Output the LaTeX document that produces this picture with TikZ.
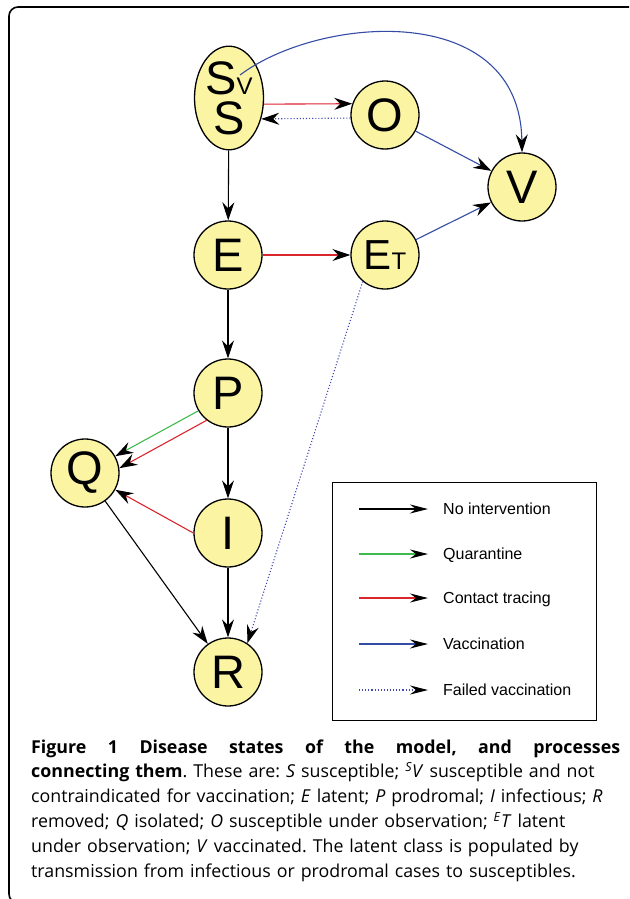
\documentclass[tikz,border=0pt]{standalone}
\usepackage{fontspec}
\setmainfont{Open Sans}
\newfontfamily\diagfont{Liberation Sans}
\usepackage{tikz}
\usetikzlibrary{arrows.meta, shapes.geometric}
\definecolor{stateyellow}{RGB}{250,244,163}
\definecolor{traceRed}{RGB}{218,37,44}
\definecolor{quarGreen}{RGB}{64,186,78}
\definecolor{vacBlue}{RGB}{52,76,164}
\definecolor{failBlue}{RGB}{64,72,176}
\frenchspacing
\tikzset{>={Stealth[length=18pt,width=12pt,inset=6pt,color=black]}}
\tikzset{
    state/.style={circle, draw, line width=1.3pt, fill=stateyellow, minimum size=68pt, inner sep=0pt,
        font=\diagfont\fontsize{47}{47}\selectfont},
    sstate/.style={state, ellipse, minimum width=69pt, minimum height=101pt, align=center,
        font=\diagfont\fontsize{47}{40}\selectfont},
    flow/.style={->, line width=1.1pt},
    plainflow/.style={flow, black},
    quarflow/.style={flow, quarGreen},
    traceflow/.style={flow, traceRed},
    vacflow/.style={flow, vacBlue},
    failflow/.style={flow, failBlue, dotted},
    legendtip/.style={-{Stealth[length=18pt,width=9pt,inset=6pt,color=black]}, line width=1.1pt},
    legendtext/.style={anchor=base west, inner sep=0pt, font=\diagfont\fontsize{16}{19}\selectfont}
}
\newcommand{\smallsub}[1]{{\fontsize{24}{24}\selectfont #1}}

\begin{document}
\begin{tikzpicture}[x=1pt, y=-1pt]
    \useasboundingbox (0,0) rectangle (629,899);
    \clip (0,0) rectangle (629,899);
    \draw[line width=1.6pt, rounded corners=9pt] (640,7) -- (9,7) -- (9,903) -- (640,903);

    % states
    \node[sstate] (S) at (229,98) {S\smallsub{V}\\S};
    \node[state] (O) at (385,115) {O};
    \node[state] (V) at (522,187) {V};
    \node[state] (E) at (228,255) {E};
    \node[state, font=\diagfont\fontsize{42}{42}\selectfont] (ET) at (385,255) {E\smallsub{T}};
    \node[state] (P) at (228,393) {P};
    \node[state] (Q) at (85,473) {Q};
    \node[state] (I) at (228,533) {I};
    \node[state] (R) at (228,672) {R};
    \coordinate (Sv) at (240,75);

    % transitions
    \draw[plainflow] (S) -- (E);
    \draw[plainflow] (E) -- (P);
    \draw[plainflow] (P) -- (I);
    \draw[plainflow] (I) -- (R);
    \draw[plainflow] (Q) -- (R);
    \draw[traceflow] (S.-10) -- (O.161);
    \draw[failflow] (O.185) -- (S.-33);
    \draw[vacflow] (Sv) .. controls (320,15) and (520,0) .. (V.north);
    \draw[vacflow] (O) -- (V);
    \draw[vacflow] (ET) -- (V);
    \draw[traceflow] (E) -- (ET);
    \draw[failflow] (ET.230) -- (R.56);
    \draw[quarflow] (P.211) -- (Q.29);
    \draw[traceflow] (P.232) -- (Q.8);
    \draw[traceflow] (I.west) -- (Q);

    % legend
    \node[draw, line width=1pt, minimum width=264pt, minimum height=238pt, inner sep=0pt] (legend) at (464,601) {};
    \coordinate (k1) at (359,509); \coordinate (k1e) at (428,509);
    \coordinate (k2) at (359,554); \coordinate (k2e) at (428,554);
    \coordinate (k3) at (359,598); \coordinate (k3e) at (428,598);
    \coordinate (k4) at (359,644); \coordinate (k4e) at (428,644);
    \coordinate (k5) at (359,690); \coordinate (k5e) at (428,690);
    \draw[legendtip, black] (k1) -- (k1e);
    \draw[legendtip, quarGreen] (k2) -- (k2e);
    \draw[legendtip, traceRed] (k3) -- (k3e);
    \draw[legendtip, vacBlue] (k4) -- (k4e);
    \draw[legendtip, failBlue, dotted] (k5) -- (k5e);
    \node[legendtext] (l1) at (443,514.5) {No intervention};
    \node[legendtext] (l2) at (443,559.5) {Quarantine};
    \node[legendtext] (l3) at (443,603.5) {Contact tracing};
    \node[legendtext] (l4) at (443,649.5) {Vaccination};
    \node[legendtext] (l5) at (443,695.5) {Failed vaccination};

    % caption
    \node[anchor=base west, inner sep=0pt, text width=594pt, align=left,
        font=\fontsize{17.8}{24.8}\selectfont] (caption) at (31,753)
        {\hbox to 589pt{\bfseries Figure\hfill 1\hfill Disease\hfill states\hfill of\hfill the\hfill model,\hfill and\hfill processes}\\
        {\bfseries connecting them}. These are: \textit{S} susceptible; \textsuperscript{\textit{S}}\textit{V} susceptible and not\\
        contraindicated for vaccination; \textit{E} latent; \textit{P} prodromal; \textit{I} infectious; \textit{R}\\
        removed; \textit{Q} isolated; \textit{O} susceptible under observation; \textsuperscript{\textit{E}}\textit{T} latent\\
        under observation; \textit{V} vaccinated. The latent class is populated by\\
        transmission from infectious or prodromal cases to susceptibles.};
\end{tikzpicture}
\end{document}
